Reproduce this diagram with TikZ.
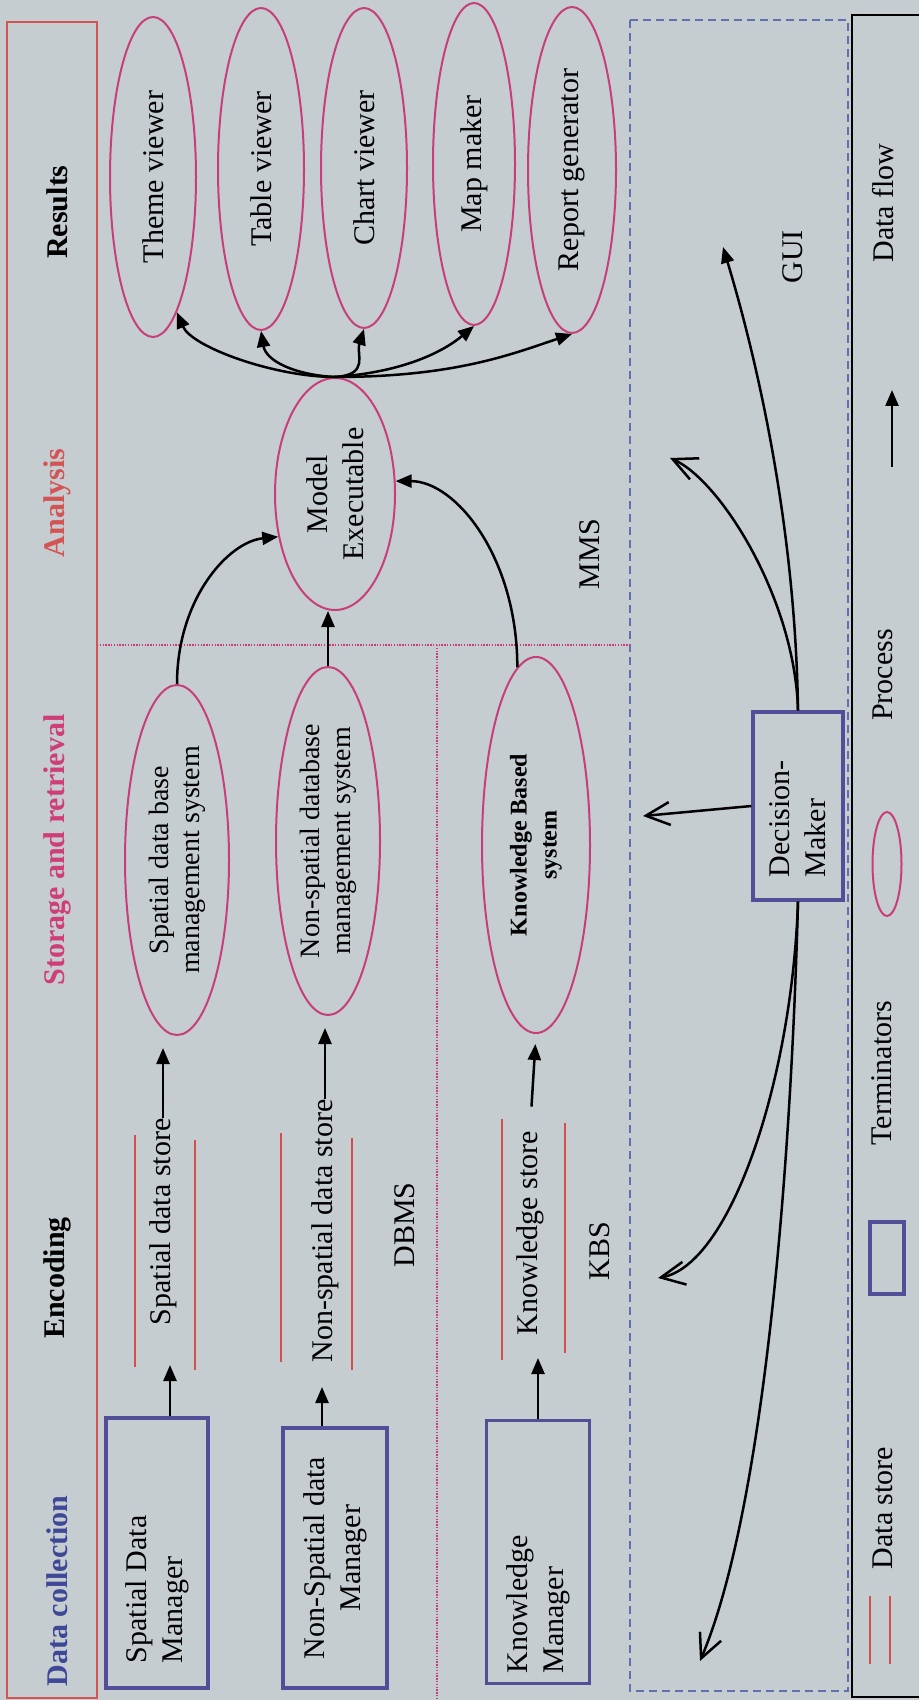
\documentclass[tikz,border=0pt]{standalone}
\usepackage{fontspec}
\setmainfont{Liberation Serif}
\usetikzlibrary{arrows.meta,shapes.geometric}
\definecolor{bgcol}{RGB}{197,205,209}
\definecolor{termcol}{RGB}{82,78,152}
\definecolor{proccol}{RGB}{200,62,122}
\definecolor{storecol}{RGB}{214,78,74}
\definecolor{hdred}{RGB}{212,84,84}
\definecolor{hdblue}{RGB}{62,72,150}
\definecolor{hdpink}{RGB}{208,62,120}
\definecolor{guicol}{RGB}{98,112,176}
\newcommand{\bodyfs}{\fontsize{15}{18}\selectfont}
\newcommand{\smallfs}{\fontsize{14}{15.5}\selectfont}
\tikzset{
  hd/.style    ={rotate=90,inner sep=0pt,font={\bfseries\bodyfs}},
  lab/.style   ={rotate=90,inner sep=0pt,font=\bodyfs},
  term/.style  ={draw=termcol,line width=1.6pt,rotate=90,inner ysep=0pt,font=\bodyfs},
  proc/.style  ={ellipse,draw=proccol,line width=1pt,rotate=90,inner sep=0pt,align=center,font=\bodyfs},
  dstore/.style={draw=storecol,line width=1pt},
  region/.style={draw=proccol,line width=1.1pt,dash pattern=on 0.7pt off 0.7pt},
  ar/.style    ={-{Triangle[length=8pt,width=6.5pt]},line width=1.25pt},
  opn/.style   ={-{Straight Barb[length=12pt,width=11.5pt]},line width=1.25pt},
}

\begin{document}
\begin{tikzpicture}[x=0.5pt,y=-0.5pt]
  \fill[bgcol] (0,0) rectangle (919,1700);
  \useasboundingbox (0,0) rectangle (919,1700);
  \draw[hdred,line width=0.9pt] (7,22) rectangle (97,1698);
  \draw[guicol,line width=0.9pt,dash pattern=on 4pt off 2.5pt] (630,20) rectangle (848,1691);
  \draw[line width=1pt] (852,15) rectangle (930,1697);
  \draw[region] (97,645) -- (630,645) (437,645) -- (437,1700);

  \node[hd,text=hdblue] (hcol) at (57,1591) {Data collection};
  \node[hd] (henc) at (57,1278) {Encoding};
  \node[hd,text=hdpink] (hsto) at (57,850) {Storage and retrieval};
  \node[hd,text=hdred] (hana) at (57,503) {Analysis};
  \node[hd] (hres) at (57,212) {Results};

  \node[term,minimum width=135pt,minimum height=51pt,text width=110pt,inner xsep=12.5pt,align=flush left] (sdm) at (157,1553) {Spatial Data\\Manager};
  \node[term,minimum width=130pt,minimum height=52pt,align=center] (nsdm) at (335,1558) {Non-Spatial data\\Manager};
  \node[term,minimum width=131.5pt,minimum height=51.5pt,text width=121.5pt,inner xsep=5pt,align=flush left] (km) at (538,1552) {Knowledge\\Manager};
  \node[term,minimum width=94pt,minimum height=45pt,text width=71pt,inner xsep=11.5pt,align=flush left] (dm) at (798,806) {Decision-\\Maker};

  \node[lab] (sds) at (163,1222) {Spatial data store};
  \node[lab] (nds) at (325,1231) {Non-spatial data store};
  \node[lab] (ks) at (530,1233) {Knowledge store};
  \draw[dstore] (135,1135) -- (135,1367) (195,1140) -- (195,1370);
  \draw[dstore] (281,1133) -- (281,1362) (352,1138) -- (352,1370);
  \draw[dstore] (502,1119) -- (502,1360) (565,1123) -- (565,1353);

  \node[proc,minimum width=175pt,minimum height=52pt,font=\smallfs] (sdbms) at (177,860) {Spatial data base\\management system};
  \node[proc,minimum width=174pt,minimum height=52pt,font=\smallfs] (nsdbms) at (328,841) {Non-spatial database\\management system};
  \node[proc,minimum width=188pt,minimum height=54pt,font={\bfseries\fontsize{12}{15}\selectfont}] (kbs) at (536,845) {Knowledge Based\\system};
  \node[proc,minimum width=116pt,minimum height=60pt] (me) at (335,494) {Model\\Executable};
  \node[proc,minimum width=160pt,minimum height=43pt] (tv) at (153,177) {Theme viewer};
  \node[proc,minimum width=161pt,minimum height=43pt] (tav) at (261,169) {Table viewer};
  \node[proc,minimum width=160pt,minimum height=43pt] (cv) at (364,168) {Chart viewer};
  \node[proc,minimum width=161pt,minimum height=41pt] (mm) at (474,164) {Map maker};
  \node[proc,minimum width=163pt,minimum height=44pt] (rg) at (572,170) {Report generator};

  \node[lab] (dbms) at (405,1225) {DBMS};
  \node[lab] (kbsl) at (600,1251) {KBS};
  \node[lab] (mms) at (590,554) {MMS};
  \node[lab] (gui) at (793,257) {GUI};

  \coordinate (sdsIn) at (170,1365);
  \coordinate (ndsIn) at (322,1387);
  \coordinate (ksIn) at (538,1358);
  \draw[ar] (sdm.east -| sdsIn) -- (sdsIn);
  \draw[ar] (nsdm.east -| ndsIn) -- (ndsIn);
  \draw[ar] (km.east) -- (ksIn);
  \draw[ar,shorten >=6pt] (sds.east) -- (sds.east |- sdbms.west);
  \draw[ar,shorten >=6pt] (nds.east) -- (nds.east |- nsdbms.west);
  \draw[ar,shorten <=12pt,shorten >=5pt] (ks.east) -- (kbs.west);

  \draw[ar] (sdbms.east) .. controls +(0,-85) and +(-50,5) .. (me.127);
  \draw[ar] (nsdbms.east) -- (nsdbms.east |- me.west);
  \draw[ar] (kbs.6) .. controls +(0,-110) and +(60,0) .. (me.282);

  \draw[ar] (me.east) .. controls +(-60,0) and +(15,35) .. (tv.190);
  \draw[ar] (me.east) .. controls +(-40,-2) and +(5,30) .. (tav.west);
  \draw[ar] (me.east) .. controls +(35,-2) and +(-8,25) .. (cv.west);
  \draw[ar] (me.east) .. controls +(70,-5) and +(-30,25) .. (mm.west);
  \draw[ar] (me.east) .. controls +(120,0) and +(-60,20) .. (rg.west);

  \coordinate (guiA) at (670,458);
  \coordinate (guiB) at (723,247);
  \coordinate (guiC) at (658,1278);
  \coordinate (guiD) at (700,1661);
  \coordinate (guiE) at (643,816);
  \draw[opn] (dm.east) .. controls +(-3,-112) and +(50,22) .. (guiA);
  \draw[ar] (dm.east) .. controls +(-3,-212) and +(22,73) .. (guiB);
  \draw[opn] (dm.west) .. controls +(-6,180) and +(72,-13) .. (guiC);
  \draw[opn] (dm.west) .. controls +(-8,300) and +(60,-141) .. (guiD);
  \draw[opn] (dm.north) -- (guiE);

  \node[lab] (lgflow) at (883,203) {Data flow};
  \coordinate (lgA) at (892,467);
  \coordinate (lgB) at (892,390);
  \draw[ar] (lgA) -- (lgB);
  \node[lab] (lgproc) at (883,675) {Process};
  \node[proc,minimum width=52pt,minimum height=14.5pt] (lgell) at (887,864) {};
  \node[lab] (lgterm) at (882,1073) {Terminators};
  \node[term,minimum width=36pt,minimum height=17pt] (lgbox) at (887,1258) {};
  \node[lab] (lgstore) at (883,1508) {Data store};
  \draw[dstore] (870,1596) -- (870,1664) (890,1596) -- (890,1664);
\end{tikzpicture}
\end{document}
